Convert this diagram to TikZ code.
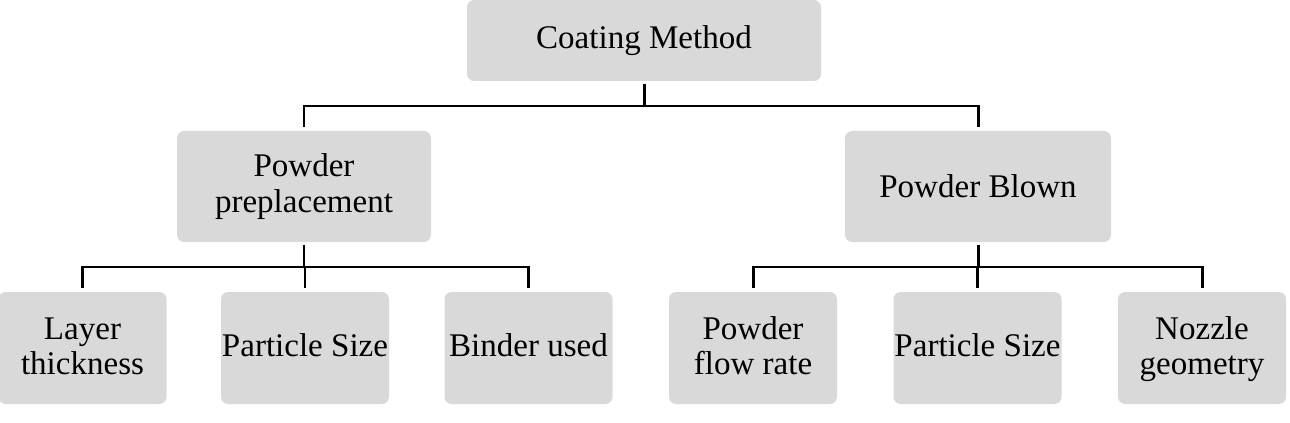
\documentclass[tikz,border=0pt]{standalone}
\usepackage{fontspec}
\setmainfont{Liberation Serif}
\usetikzlibrary{positioning,calc}
\definecolor{boxgray}{RGB}{217,217,217}

\begin{document}
\begin{tikzpicture}[every node/.style={font=\fontsize{18.8}{20}\selectfont},
    catbox/.style={fill=boxgray, rounded corners=4pt, align=center, inner sep=0pt},
    leafbox/.style={catbox, minimum width=3.36cm, minimum height=2.24cm},
    link/.style={line width=1.7pt, shorten <=1.5pt, shorten >=2.2pt}]
    \useasboundingbox (0,0) rectangle (25.8,-8.46);
    % root and the two methods
    \node[catbox, minimum width=7.08cm, minimum height=1.62cm] (coat) at (12.88,-0.81) {Coating Method};
    \node[catbox, minimum width=5.08cm, minimum height=2.22cm] (prep) at (6.08,-3.73) {Powder\\preplacement};
    \node[catbox, minimum width=5.32cm, minimum height=2.22cm] (blown) at (19.56,-3.73) {Powder Blown};
    % parameters of each method
    \foreach \n/\x/\t in {layer/1.65/{Layer\\thickness}, sizeA/6.10/{Particle Size}, binder/10.57/{Binder used},
      flow/15.06/{Powder\\flow rate}, sizeB/19.55/{Particle Size}, nozzle/24.04/{Nozzle\\geometry}}
      \node[leafbox] (\n) at (\x,-6.96) {\rule{0pt}{16pt}\t\strut};
    % bus lines
    \coordinate (topbus) at (0,-2.12);
    \coordinate (lowbus) at (0,-5.34);
    \foreach \c in {prep,blown}
      \draw[link] (coat.south) |- (topbus -| \c.north) -- (\c.north);
    \foreach \c in {layer,sizeA,binder}
      \draw[link] (prep.south) |- (lowbus -| \c.north) -- (\c.north);
    \foreach \c in {flow,sizeB,nozzle}
      \draw[link] (blown.south) |- (lowbus -| \c.north) -- (\c.north);
  \end{tikzpicture}
\end{document}
